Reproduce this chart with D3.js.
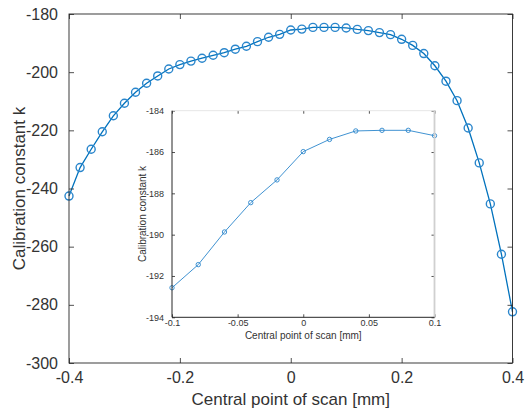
<html>
  <head>
    <meta charset="utf-8">
    <title>Calibration constant</title>
    <script src="https://cdn.jsdelivr.net/npm/d3@7"></script>
    <style>
      body { margin: 0; background: #fff; }
      text { font-family: "Liberation Sans", Arial, sans-serif; }
    </style>
  </head>
  <body>
    <svg></svg>
    <script>
      'use strict';

      // main curve: central point of scan [mm] vs calibration constant k
      const mainX = [-0.40, -0.38, -0.36, -0.34, -0.32, -0.30, -0.28, -0.26, -0.24, -0.22,
        -0.20, -0.18, -0.16, -0.14, -0.12, -0.10, -0.08, -0.06, -0.04, -0.02,
        0.00, 0.02, 0.04, 0.06, 0.08, 0.10, 0.12, 0.14, 0.16, 0.18,
        0.20, 0.22, 0.24, 0.26, 0.28, 0.30, 0.32, 0.34, 0.36, 0.38, 0.40];
      const mainK = [-242.6, -232.8, -226.5, -220.5, -215.0, -210.7, -206.9, -203.8, -201.3, -198.9,
        -197.4, -196.2, -195.2, -194.2, -193.3, -192.1, -191.1, -189.5, -188.0, -187.0,
        -185.5, -185.2, -184.6, -184.6, -184.6, -184.8, -185.3, -185.7, -186.4, -187.1,
        -188.7, -190.8, -193.6, -197.8, -203.1, -209.8, -219.2, -231.2, -245.3, -262.6, -282.4];

      // inset (zoom around the centre)
      const insetX = [-0.10, -0.08, -0.06, -0.04, -0.02, 0.00, 0.02, 0.04, 0.06, 0.08, 0.10];
      const insetK = [-192.57, -191.45, -189.87, -188.45, -187.35, -185.98, -185.39, -184.98, -184.95, -184.95, -185.21];

      // tick labels
      const mainXTicks = [-0.4, -0.2, 0, 0.2, 0.4];
      const mainYTicks = [-300, -280, -260, -240, -220, -200, -180];
      const insetXTicks = [-0.1, -0.05, 0, 0.05, 0.1];
      const insetYTicks = [-194, -192, -190, -188, -186, -184];

      const W = 526, H = 409;
      const blue = '#0072BD';
      const axisCol = '#262626';
      const fmt = d => String(+d.toFixed(2));

      const svg = d3.select('svg').attr('width', W).attr('height', H);

      // ---------- main axes ----------
      const m = { left: 69, right: 512.5, top: 14, bottom: 363 };
      const x = d3.scaleLinear().domain([-0.4, 0.4]).range([m.left, m.right]);
      const y = d3.scaleLinear().domain([-300, -180]).range([m.bottom, m.top]);

      const mainData = mainX.map((v, i) => ({ x: v, k: mainK[i] }));

      svg.append('path')
        .datum(mainData)
        .attr('fill', 'none')
        .attr('stroke', blue)
        .attr('stroke-width', 1.3)
        .attr('d', d3.line().x(d => x(d.x)).y(d => y(d.k)));

      svg.selectAll('circle.main')
        .data(mainData)
        .enter()
        .append('circle')
        .attr('class', 'main')
        .attr('cx', d => x(d.x))
        .attr('cy', d => y(d.k))
        .attr('r', 4)
        .attr('fill', 'none')
        .attr('stroke', '#2a86cc')
        .attr('stroke-width', 1.4);

      // box with inward ticks (MATLAB style)
      function styleAxis(g, size) {
        g.select('.domain').remove();
        g.selectAll('line').attr('stroke', axisCol).attr('stroke-width', 0.8);
        g.selectAll('text').attr('fill', '#333').attr('font-size', size);
      }

      svg.append('g')
        .attr('transform', `translate(0,${m.bottom})`)
        .call(d3.axisBottom(x).tickValues(mainXTicks).tickFormat(fmt).tickSizeInner(-5).tickSizeOuter(0).tickPadding(9))
        .call(g => styleAxis(g, 16));
      svg.append('g')
        .attr('transform', `translate(0,${m.top})`)
        .call(d3.axisTop(x).tickValues(mainXTicks).tickFormat('').tickSizeInner(-5).tickSizeOuter(0))
        .call(g => styleAxis(g, 16));
      svg.append('g')
        .attr('transform', `translate(${m.left},0)`)
        .call(d3.axisLeft(y).tickValues(mainYTicks).tickFormat(d => String(d)).tickSizeInner(-5).tickSizeOuter(0).tickPadding(11))
        .call(g => styleAxis(g, 16));
      svg.append('g')
        .attr('transform', `translate(${m.right},0)`)
        .call(d3.axisRight(y).tickValues(mainYTicks).tickFormat('').tickSizeInner(-5).tickSizeOuter(0))
        .call(g => styleAxis(g, 16));

      svg.append('rect')
        .attr('x', m.left).attr('y', m.top)
        .attr('width', m.right - m.left).attr('height', m.bottom - m.top)
        .attr('fill', 'none').attr('stroke', axisCol).attr('stroke-width', 0.9);

      svg.append('text')
        .attr('x', (m.left + m.right) / 2).attr('y', 405)
        .attr('text-anchor', 'middle').attr('font-size', 17).attr('fill', '#333')
        .text('Central point of scan [mm]');
      svg.append('text')
        .attr('transform', `translate(25,${(m.top + m.bottom) / 2}) rotate(-90)`)
        .attr('text-anchor', 'middle').attr('font-size', 17).attr('fill', '#333')
        .text('Calibration constant k');

      // ---------- inset ----------
      const n = { left: 172, right: 434.5, top: 110.7, bottom: 317.3 };
      const xi = d3.scaleLinear().domain([-0.1, 0.1]).range([n.left, n.right]);
      const yi = d3.scaleLinear().domain([-194, -184]).range([n.bottom, n.top]);

      svg.append('rect')
        .attr('x', n.left).attr('y', n.top)
        .attr('width', n.right - n.left).attr('height', n.bottom - n.top)
        .attr('fill', '#fff');

      const insetData = insetX.map((v, i) => ({ x: v, k: insetK[i] }));

      svg.append('path')
        .datum(insetData)
        .attr('fill', 'none')
        .attr('stroke', '#2a86cc')
        .attr('stroke-width', 0.9)
        .attr('d', d3.line().x(d => xi(d.x)).y(d => yi(d.k)));

      svg.selectAll('circle.inset')
        .data(insetData)
        .enter()
        .append('circle')
        .attr('class', 'inset')
        .attr('cx', d => xi(d.x))
        .attr('cy', d => yi(d.k))
        .attr('r', 2.2)
        .attr('fill', 'none')
        .attr('stroke', '#2a86cc')
        .attr('stroke-width', 0.9);

      svg.append('g')
        .attr('transform', `translate(0,${n.bottom})`)
        .call(d3.axisBottom(xi).tickValues(insetXTicks).tickFormat(fmt).tickSizeInner(-3).tickSizeOuter(0).tickPadding(2))
        .call(g => styleAxis(g, 9));
      svg.append('g')
        .attr('transform', `translate(0,${n.top})`)
        .call(d3.axisTop(xi).tickValues(insetXTicks).tickFormat('').tickSizeInner(-3).tickSizeOuter(0))
        .call(g => styleAxis(g, 9));
      svg.append('g')
        .attr('transform', `translate(${n.left},0)`)
        .call(d3.axisLeft(yi).tickValues(insetYTicks).tickFormat(d => String(d)).tickSizeInner(-3).tickSizeOuter(0).tickPadding(8))
        .call(g => styleAxis(g, 9));
      svg.append('g')
        .attr('transform', `translate(${n.right},0)`)
        .call(d3.axisRight(yi).tickValues(insetYTicks).tickFormat('').tickSizeInner(-3).tickSizeOuter(0))
        .call(g => styleAxis(g, 9));

      // light top/right edges, dark left/bottom
      svg.append('line')
        .attr('x1', n.left).attr('x2', n.right).attr('y1', n.top).attr('y2', n.top)
        .attr('stroke', '#e6e6e6').attr('stroke-width', 1);
      svg.append('line')
        .attr('x1', n.right).attr('x2', n.right).attr('y1', n.top).attr('y2', n.bottom)
        .attr('stroke', '#d0d0d0').attr('stroke-width', 1.8);
      svg.append('line')
        .attr('x1', n.left).attr('x2', n.left).attr('y1', n.top).attr('y2', n.bottom)
        .attr('stroke', axisCol).attr('stroke-width', 1);
      svg.append('line')
        .attr('x1', n.left).attr('x2', n.right).attr('y1', n.bottom).attr('y2', n.bottom)
        .attr('stroke', axisCol).attr('stroke-width', 1);

      svg.append('text')
        .attr('x', (n.left + n.right) / 2).attr('y', 339)
        .attr('text-anchor', 'middle').attr('font-size', 10).attr('fill', '#333')
        .text('Central point of scan [mm]');
      svg.append('text')
        .attr('transform', `translate(146,${(n.top + n.bottom) / 2}) rotate(-90)`)
        .attr('text-anchor', 'middle').attr('font-size', 10).attr('fill', '#333')
        .text('Calibration constant k');
    </script>
  </body>
</html>
